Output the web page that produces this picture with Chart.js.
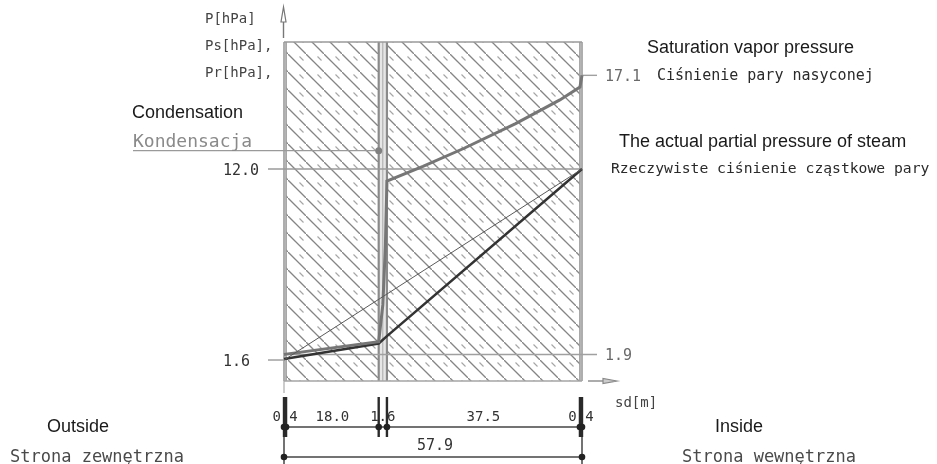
<!doctype html>
<html>
<head>
    <meta charset="utf-8">
    <title>Glaser</title>
    <script src="https://cdn.jsdelivr.net/npm/chart.js"></script>
    <style>
        body { margin: 0; background: #fff; }
    </style>
</head>
<body>
<canvas id="myChart" width="937" height="464"></canvas>

<script>
    // layers, outside -> inside, sd [m]
    var layerSd = [0.4, 18.0, 1.6, 37.5, 0.4];
    var layerLabels = ['0.4', '18.0', '1.6', '37.5', '0.4'];
    var totalLabel = '57.9';

    // saturation vapour pressure Ps [hPa]
    var satSd = [0, 0.4, 18.4, 19.2, 19.7, 20.0, 27.0, 35.0, 45.0, 53.6, 57.5, 57.9];
    var satP = [1.9, 1.92, 2.6, 4.6, 7.8, 11.34, 12.14, 13.13, 14.47, 15.76, 16.46, 17.1];

    // actual partial pressure Pr [hPa]
    var prSd = [0, 18.4, 20.0, 57.9];
    var prP = [1.65, 2.5, 2.9, 12.0];

    // straight Pr line (no condensation)
    var lineSd = [0, 57.9];
    var lineP = [1.6, 12.0];

    var pOut = 1.6, pIn = 12.0, psOut = 1.9, psIn = 17.1;
    var condSd = 18.4, condP = 13.0;

    var mono = '"DejaVu Sans Mono"';
    var sans = '"Liberation Sans", Arial';

    function pts(xs, ys) {
        return xs.map(function (v, i) { return {x: v, y: ys[i]}; });
    }

    function hline(ctx, x1, x2, y, color, w) {
        ctx.strokeStyle = color;
        ctx.lineWidth = w;
        ctx.beginPath();
        ctx.moveTo(x1, y);
        ctx.lineTo(x2, y);
        ctx.stroke();
    }

    function vline(ctx, x, y1, y2, color, w) {
        ctx.strokeStyle = color;
        ctx.lineWidth = w;
        ctx.beginPath();
        ctx.moveTo(x, y1);
        ctx.lineTo(x, y2);
        ctx.stroke();
    }

    function text(ctx, s, x, y, font, color, align) {
        ctx.font = font;
        ctx.fillStyle = color;
        ctx.textAlign = align || 'left';
        ctx.textBaseline = 'alphabetic';
        ctx.fillText(s, x, y);
    }

    function makeHatch(ctx) {
        var c = document.createElement('canvas');
        c.width = 18;
        c.height = 18;
        var g = c.getContext('2d');
        g.strokeStyle = '#858585';
        g.lineWidth = 1.3;
        g.beginPath();
        g.moveTo(-2, -2);
        g.lineTo(20, 20);
        g.stroke();
        g.strokeStyle = '#a5a5a5';
        g.lineWidth = 1.1;
        g.beginPath();
        g.moveTo(11.5, 2.5);
        g.lineTo(15.5, 6.5);
        g.stroke();
        return ctx.createPattern(c, 'repeat');
    }

    function bounds() {
        var b = [0];
        layerSd.forEach(function (t) { b.push(Math.round((b[b.length - 1] + t) * 10) / 10); });
        return b;
    }

    var glaserPlugin = {
        id: 'glaser',
        beforeDatasetsDraw: function (chart) {
            var ctx = chart.ctx, a = chart.chartArea;
            var xs = chart.scales.x, ys = chart.scales.y;
            var b = bounds();
            ctx.save();

            // layers
            var hatch = makeHatch(ctx);
            for (var i = 0; i < layerSd.length; i++) {
                var x1 = xs.getPixelForValue(b[i]), x2 = xs.getPixelForValue(b[i + 1]);
                if (layerSd[i] > 5) {
                    ctx.fillStyle = hatch;
                    ctx.fillRect(x1, a.top, x2 - x1, a.bottom - a.top);
                } else if (layerSd[i] > 1) {
                    ctx.fillStyle = '#e6e6e6';
                    ctx.fillRect(x1, a.top, x2 - x1, a.bottom - a.top);
                }
            }
            b.forEach(function (v, k) {
                var thin = (k === 2 || k === 3);
                vline(ctx, xs.getPixelForValue(v), a.top, a.bottom, thin ? '#8a8a8a' : '#9a9a9a', thin ? 2.2 : 1.6);
            });
            // thin middle layer inner line
            var m = xs.getPixelForValue(b[2] + layerSd[2] / 2);
            vline(ctx, m, a.top, a.bottom, '#a8a8a8', 1);
            hline(ctx, a.left, a.right, a.top, '#9a9a9a', 1.6);
            hline(ctx, a.left, a.right, a.bottom, '#a5a5a5', 1.6);

            // reference levels
            hline(ctx, 268, a.right, ys.getPixelForValue(pIn), '#9a9a9a', 1.4);
            hline(ctx, 268, a.left, ys.getPixelForValue(pOut), '#9a9a9a', 1.4);
            hline(ctx, a.left, a.right + 15, ys.getPixelForValue(psOut), '#a0a0a0', 1.4);
            hline(ctx, a.right, a.right + 15, ys.getPixelForValue(psIn), '#a0a0a0', 1.4);
            hline(ctx, 133, xs.getPixelForValue(condSd), ys.getPixelForValue(condP), '#9a9a9a', 1.4);

            // axes arrows
            var ax = a.left - 0.5;
            vline(ctx, ax, a.top - 4, 20, '#777', 1.4);
            ctx.beginPath();
            ctx.moveTo(ax, 7);
            ctx.lineTo(ax - 2.5, 22);
            ctx.lineTo(ax + 2.5, 22);
            ctx.closePath();
            ctx.fillStyle = '#fff';
            ctx.fill();
            ctx.strokeStyle = '#777';
            ctx.lineWidth = 1.2;
            ctx.stroke();

            hline(ctx, a.right + 6, a.right + 22, a.bottom, '#888', 1.4);
            ctx.beginPath();
            ctx.moveTo(a.right + 35, a.bottom);
            ctx.lineTo(a.right + 21, a.bottom - 2.5);
            ctx.lineTo(a.right + 21, a.bottom + 2.5);
            ctx.closePath();
            ctx.fillStyle = '#ccc';
            ctx.fill();
            ctx.strokeStyle = '#888';
            ctx.lineWidth = 1.2;
            ctx.stroke();

            ctx.restore();
        },
        afterDatasetsDraw: function (chart) {
            var ctx = chart.ctx, a = chart.chartArea;
            var xs = chart.scales.x, ys = chart.scales.y;
            var b = bounds();
            ctx.save();

            // condensation point
            ctx.fillStyle = '#808080';
            ctx.beginPath();
            ctx.arc(xs.getPixelForValue(condSd), ys.getPixelForValue(condP), 3.5, 0, Math.PI * 2);
            ctx.fill();

            // dimension lines
            var y1 = a.bottom + 46, y2 = a.bottom + 76;
            var xl = xs.getPixelForValue(0), xr = xs.getPixelForValue(b[b.length - 1]);
            vline(ctx, xl, a.bottom, a.bottom + 12, '#aaa', 1.2);
            hline(ctx, xl, xr, y1, '#444', 1.5);
            hline(ctx, xl, xr, y2, '#444', 1.5);
            vline(ctx, xl, y1, a.bottom + 83, '#444', 1.5);
            vline(ctx, xr, y1, a.bottom + 83, '#444', 1.5);
            for (var i = 0; i < layerSd.length; i++) {
                var cx = (xs.getPixelForValue(b[i]) + xs.getPixelForValue(b[i + 1])) / 2;
                text(ctx, layerLabels[i], cx, a.bottom + 40, '14px ' + mono, '#333', 'center');
            }
            // ticks cut through "0.4" and "1.6"
            b.forEach(function (v) {
                var x = xs.getPixelForValue(v);
                vline(ctx, x, a.bottom + 16, a.bottom + 56, '#2a2a2a', 2.4);
                ctx.fillStyle = '#222';
                ctx.beginPath();
                ctx.arc(x, y1, 3.3, 0, Math.PI * 2);
                ctx.fill();
            });
            [xl, xr].forEach(function (x) {
                ctx.fillStyle = '#222';
                ctx.beginPath();
                ctx.arc(x, y2, 3.3, 0, Math.PI * 2);
                ctx.fill();
            });
            text(ctx, totalLabel, (xl + xr) / 2 + 2, a.bottom + 69, '15px ' + mono, '#333', 'center');

            // axis labels
            text(ctx, 'P[hPa]', 205, 23, '14px ' + mono, '#444');
            text(ctx, 'Ps[hPa],', 205, 50, '14px ' + mono, '#444');
            text(ctx, 'Pr[hPa],', 205, 77, '14px ' + mono, '#444');
            text(ctx, 'sd[m]', 615, 407, '14px ' + mono, '#444');

            // value labels
            text(ctx, pIn.toFixed(1), 223, ys.getPixelForValue(pIn) + 5.5, '15px ' + mono, '#333');
            text(ctx, pOut.toFixed(1), 223, ys.getPixelForValue(pOut) + 5.5, '15px ' + mono, '#333');
            text(ctx, psIn.toFixed(1), 605, ys.getPixelForValue(psIn) + 5.5, '15px ' + mono, '#6a6a6a');
            text(ctx, psOut.toFixed(1), 605, ys.getPixelForValue(psOut) + 5.5, '15px ' + mono, '#6a6a6a');

            // descriptions
            text(ctx, 'Condensation', 132, 118, '18px ' + sans, '#1a1a1a');
            text(ctx, 'Kondensacja', 133, 147, '18px ' + mono, '#8a8a8a');
            text(ctx, 'Saturation vapor pressure', 647, 53, '18px ' + sans, '#1a1a1a');
            text(ctx, 'Ciśnienie pary nasyconej', 657, 80, '15px ' + mono, '#2a2a2a');
            text(ctx, 'The actual partial pressure of steam', 619, 147, '18px ' + sans, '#1a1a1a');
            text(ctx, 'Rzeczywiste ciśnienie cząstkowe pary', 611, 173, '14.7px ' + mono, '#2a2a2a');
            text(ctx, 'Outside', 47, 432, '18px ' + sans, '#1a1a1a');
            text(ctx, 'Strona zewnętrzna', 10, 462, '17px ' + mono, '#4a4a4a');
            text(ctx, 'Inside', 715, 432, '18px ' + sans, '#1a1a1a');
            text(ctx, 'Strona wewnętrzna', 682, 462, '17px ' + mono, '#4a4a4a');

            ctx.restore();
        }
    };

    var pageAction = function () {

        var init = function () {
            drawChart();
        };

        function drawChart() {
            new Chart(document.getElementById('myChart'), {
                type: 'line',
                data: {
                    datasets: [{
                        label: 'Pr (no condensation)',
                        data: pts(lineSd, lineP),
                        borderColor: '#5a5a5a',
                        borderWidth: 1,
                        clip: false
                    }, {
                        label: 'Ps',
                        data: pts(satSd, satP),
                        borderColor: '#767676',
                        borderWidth: 3,
                        clip: false
                    }, {
                        label: 'Pr',
                        data: pts(prSd, prP),
                        borderColor: '#333',
                        borderWidth: 2.5,
                        clip: false
                    }]
                },
                options: {
                    responsive: false,
                    animation: false,
                    layout: {
                        padding: {left: 284, right: 355, top: 42, bottom: 83}
                    },
                    elements: {
                        point: {radius: 0},
                        line: {tension: 0}
                    },
                    plugins: {
                        legend: {display: false},
                        tooltip: {enabled: false}
                    },
                    scales: {
                        x: {type: 'linear', display: false, min: 0, max: 57.9},
                        y: {type: 'linear', display: false, min: 0.457, max: 18.915}
                    }
                },
                plugins: [glaserPlugin]
            });
        }

        return {
            init: init
        };
    };

    pageAction().init();
</script>
</body>
</html>
